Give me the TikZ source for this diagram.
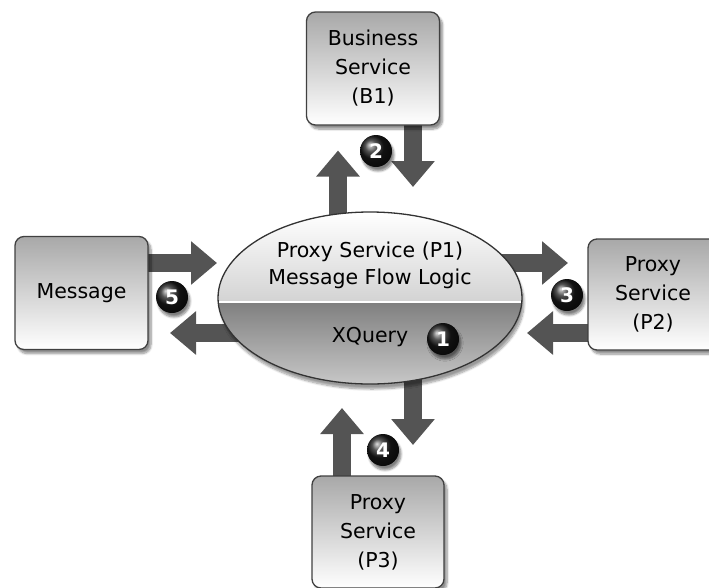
\documentclass[tikz,border=0pt]{standalone}
\usepackage{fontspec}
\setmainfont{DejaVu Sans}
\usetikzlibrary{shapes.geometric,arrows.meta,shadows.blur}
\begin{document}
\begin{tikzpicture}[x=1pt,y=-1pt,
  svcbox/.style={draw=black!75, line width=1.3pt, rounded corners=9pt,
    top color=black!34, bottom color=white, align=center, inner sep=0pt,
    blur shadow={shadow xshift=3pt, shadow yshift=-4pt, shadow blur steps=8, shadow opacity=45},
    font=\fontsize{20.5pt}{29pt}\selectfont},
  blk/.style={draw=black!67, line width=18pt, -{Triangle[length=26pt,width=42pt]}},
  badge/.style={circle, inner sep=0pt, minimum size=32pt, shading=ball, ball color=black!90,
    text=white, font=\fontsize{20pt}{20pt}\bfseries\selectfont,
    blur shadow={shadow xshift=2pt, shadow yshift=-4pt, shadow blur steps=6, shadow opacity=50}},
  lbl/.style={align=center, font=\fontsize{20.5pt}{27pt}\selectfont, inner sep=0pt}
]
\useasboundingbox (0,0) rectangle (709,587);
\clip (0,0) rectangle (709,587);

\path
  (373,68.5) coordinate (b1c)
  (81.5,293) coordinate (msgc)
  (653,294.5) coordinate (p2c)
  (378,532) coordinate (p3c)
  (370,298) coordinate (p1c);

% arrows (drawn first so boxes cover their bases)
\draw[blk] ([xshift=-32pt]p1c) -- ([xshift=-35pt,yshift=-82pt]b1c);
\draw[blk] ([xshift=40pt]b1c) -- ([xshift=43pt,yshift=111pt]p1c);
\draw[blk] ([yshift=30pt]msgc) -- ([xshift=-153pt,yshift=35pt]p1c);
\draw[blk] ([yshift=-35pt]p1c) -- ([xshift=88.5pt,yshift=-40pt]msgc);
\draw[blk] ([yshift=35pt]p1c) -- ([xshift=-85pt,yshift=31.5pt]p2c);
\draw[blk] ([yshift=-38.5pt]p2c) -- ([xshift=157pt,yshift=-35pt]p1c);
\draw[blk] ([xshift=43pt]p1c) -- ([xshift=35pt,yshift=87pt]p3c);
\draw[blk] ([xshift=-36pt]p3c) -- ([xshift=-28pt,yshift=-110pt]p1c);

% boxes
\node[svcbox, minimum width=133pt, minimum height=113pt] (b1) at (b1c) {Business\\Service\\(B1)};
\node[svcbox, minimum width=133pt, minimum height=113pt] (msg) at (msgc) {Message};
\node[svcbox, minimum width=130pt, minimum height=111pt] (p2) at (p2c) {Proxy\\Service\\(P2)};
\node[svcbox, minimum width=132pt, minimum height=112pt] (p3) at (p3c) {Proxy\\Service\\(P3)};

% central ellipse
\node[ellipse, draw=black!80, line width=1.3pt, minimum width=304pt, minimum height=172pt, inner sep=0pt,
  blur shadow={shadow xshift=2pt, shadow yshift=-5pt, shadow blur steps=8, shadow opacity=40},
  path picture={
    \shade[top color=white, bottom color=black!33]
      (path picture bounding box.north west) rectangle ([yshift=-4pt]path picture bounding box.east);
    \shade[top color=black!50, bottom color=black!22]
      ([yshift=-4pt]path picture bounding box.west) rectangle (path picture bounding box.south east);
    \draw[white, line width=1.6pt]
      ([yshift=-4pt]path picture bounding box.west) -- ([yshift=-4pt]path picture bounding box.east);
  }] (p1) at (p1c) {};
\node[lbl] (p1t) at (370,265) {Proxy Service (P1)\\Message Flow Logic};
\node[lbl] (xq) at (370,337) {XQuery};

% badges
\node[badge] (n1) at (443,339) {1};
\node[badge] (n2) at (376,151) {2};
\node[badge] (n3) at (567,295) {3};
\node[badge] (n4) at (383,450) {4};
\node[badge] (n5) at (172,297) {5};
\end{tikzpicture}
\end{document}
